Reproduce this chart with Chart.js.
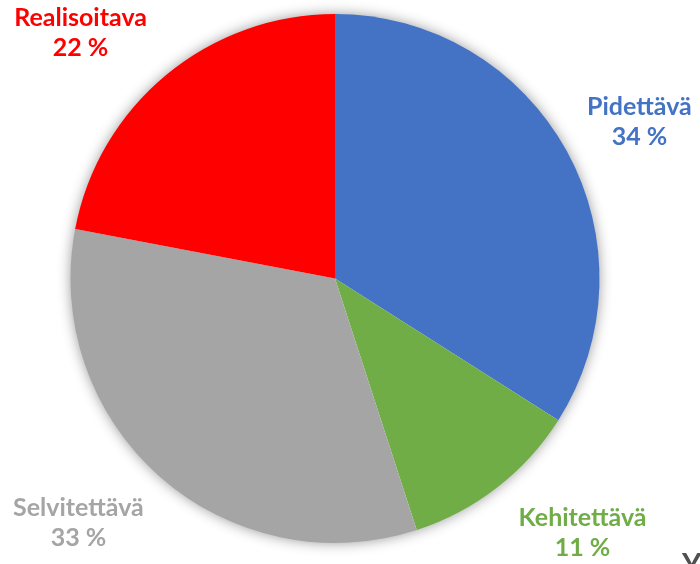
<!DOCTYPE html>
<html><head><meta charset="utf-8">
<script src="https://cdn.jsdelivr.net/npm/chart.js@4"></script>
<style>html,body{margin:0;padding:0;background:#fff;}canvas{display:block;}</style>
</head><body>
<canvas id="c" width="700" height="564"></canvas>
<script>
const categories = ["Pidettävä", "Kehitettävä", "Selvitettävä", "Realisoitava"];
const values = [34, 11, 33, 22];
const colors = ["#4472C4", "#70AD47", "#A5A5A5", "#FF0000"];
// label block centers, relative to pie center, in units of radius
const labelOffsets = [[1.151, -0.608], [0.936, 0.947], [-0.970, 0.909], [-0.962, -0.945]];

const shadowPlugin = {
  id: 'shadow',
  beforeDatasetsDraw(chart) {
    const arc = chart.getDatasetMeta(0).data[0];
    if (!arc) return;
    const ctx = chart.ctx;
    ctx.save();
    ctx.shadowColor = 'rgba(0,0,0,0.45)';
    ctx.shadowBlur = 14;
    ctx.fillStyle = '#fff';
    ctx.beginPath();
    ctx.arc(arc.x, arc.y, arc.outerRadius - 1, 0, Math.PI * 2);
    ctx.fill();
    ctx.restore();
  }
};

const labelPlugin = {
  id: 'labels',
  afterDatasetsDraw(chart) {
    const meta = chart.getDatasetMeta(0);
    const ctx = chart.ctx;
    const total = values.reduce((a, b) => a + b, 0);
    ctx.save();
    ctx.font = 'bold 25px Lato';
    ctx.textAlign = 'center';
    ctx.textBaseline = 'alphabetic';
    meta.data.forEach((arc, i) => {
      const r = arc.outerRadius;
      const cx = arc.x + labelOffsets[i][0] * r;
      const cy = arc.y + labelOffsets[i][1] * r;
      ctx.fillStyle = colors[i];
      ctx.fillText(categories[i], cx, cy - 3);
      ctx.fillText(Math.round(values[i] / total * 100) + ' %', cx, cy + 27);
    });
    ctx.fillStyle = '#505050';
    ctx.font = 'bold 30px Lato';
    ctx.textAlign = 'left';
    ctx.fillText('Y', 682, 575);
    ctx.restore();
  }
};

new Chart(document.getElementById('c'), {
  type: 'pie',
  data: {
    labels: categories,
    datasets: [{ data: values, backgroundColor: colors, borderWidth: 0 }]
  },
  options: {
    responsive: false,
    animation: false,
    layout: { padding: { left: 70, right: 100, top: 14, bottom: 21 } },
    plugins: { legend: { display: false }, tooltip: { enabled: false } }
  },
  plugins: [shadowPlugin, labelPlugin]
});
</script>
</body></html>
